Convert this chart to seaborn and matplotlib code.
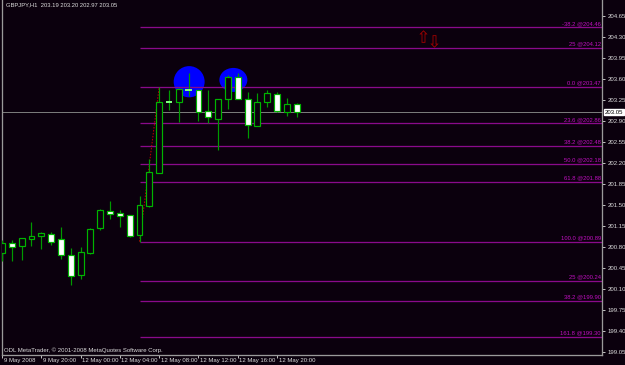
import numpy as np
import pandas as pd
import matplotlib
matplotlib.use("Agg")
import matplotlib.pyplot as plt
import matplotlib.transforms as mtransforms
from matplotlib.patches import Ellipse
import seaborn as sns

# ---------------- data ----------------
opens  = [200.70, 200.86, 200.81, 200.93, 200.99, 201.02, 200.93, 200.67, 200.33, 200.70,
          201.11, 201.40, 201.36, 201.33, 201.00, 201.49, 202.04, 203.21, 203.21, 203.42,
          203.41, 203.06, 202.93, 203.26, 203.64, 203.26, 202.81, 203.21, 203.35, 203.05, 203.19]
highs  = [200.92, 200.92, 200.95, 201.21, 201.05, 201.05, 201.13, 200.78, 200.80, 201.12,
          201.44, 201.56, 201.41, 201.33, 201.65, 202.26, 203.47, 203.42, 203.45, 203.70,
          203.42, 203.42, 203.26, 203.67, 203.70, 203.39, 203.37, 203.42, 203.38, 203.28, 203.20]
lows   = [200.57, 200.57, 200.58, 200.81, 200.76, 200.83, 200.60, 200.16, 200.26, 200.69,
          201.08, 201.26, 201.14, 200.96, 200.89, 201.47, 202.03, 203.08, 202.88, 203.31,
          202.90, 202.86, 202.41, 203.10, 203.27, 202.61, 202.81, 203.14, 203.05, 202.98, 202.97]
closes = [200.87, 200.80, 200.95, 200.98, 201.03, 200.89, 200.66, 200.32, 200.71, 201.10,
          201.41, 201.35, 201.31, 200.99, 201.50, 202.05, 203.21, 203.21, 203.43, 203.42,
          203.05, 202.96, 203.26, 203.63, 203.27, 202.83, 203.22, 203.36, 203.06, 203.19, 203.05]

tick_bars = [0, 4, 8, 12, 16, 20, 24, 28]
tick_labels = ["9 May 2008", "9 May 20:00", "12 May 00:00", "12 May 04:00",
               "12 May 08:00", "12 May 12:00", "12 May 16:00", "12 May 20:00"]

fib_names  = ["-38.2", "25", "0.0", "23.6", "38.2", "50.0", "61.8", "100.0", "25", "38.2", "161.8"]
fib_prices = [204.46, 204.12, 203.47, 202.86, 202.48, 202.18, 201.88, 200.89, 200.24, 199.90, 199.30]
fib_anchor_bars = [14, 16]          # bar of 100% (low) and 0% (high)

price_ticks = [199.05, 199.40, 199.75, 200.10, 200.45, 200.80, 201.15, 201.50,
               201.85, 202.20, 202.55, 202.90, 203.25, 203.60, 203.95, 204.30, 204.65]

bid_price = 203.05
header = "GBPJPY,H1  203.19 203.20 202.97 203.05"
footer = "ODL MetaTrader, \u00a9 2001-2008 MetaQuotes Software Corp."

ellipse_x = [19.05, 23.55]
ellipse_y = [203.555, 203.585]
ellipse_w = [3.15, 2.85]
ellipse_h = [0.52, 0.40]

arrow_x = [42.85, 43.95]
arrow_y = [204.32, 204.23]
arrow_sym = ["\u21e7", "\u21e9"]

# ---------------- style ----------------
BG = "#0b000d"
GREEN = "#00b400"
WICK = "#009a00"
FIB = "#8a0a8a"
FIBTXT = "#c010c0"
TXT = "#dcdcdc"
PX = 0.72  # one pixel in points at dpi 100

sns.set_theme(style="dark", rc={"axes.facecolor": BG, "figure.facecolor": BG})
plt.rcParams["font.family"] = ["Liberation Sans", "DejaVu Sans"]

df = pd.DataFrame({"bar": np.arange(len(opens)), "open": opens, "high": highs,
                   "low": lows, "close": closes})

fig = plt.figure(figsize=(6.25, 3.65), dpi=100)
ax = fig.add_axes([2 / 625, 10 / 365, 600 / 625, 355 / 365])
ax.set_facecolor(BG)

x_left, x_right = 0.03, 61.07
ax.set_xlim(x_left, x_right)
ax.set_ylim(199.0, 204.917)

# ellipses
for ex, ey, ew, eh in zip(ellipse_x, ellipse_y, ellipse_w, ellipse_h):
    ax.add_patch(Ellipse((ex, ey), ew, eh, facecolor="#0000ff", edgecolor="none", zorder=1))

# fibonacci levels
ax.hlines(fib_prices, fib_anchor_bars[0], x_right, colors=FIB, lw=1.3 * PX, zorder=2)
blend = mtransforms.blended_transform_factory(ax.transAxes, ax.transData)
for name, p in zip(fib_names, fib_prices):
    ax.text(0.998, p, f"{name} @{p:.2f}", transform=blend + mtransforms.ScaledTranslation(0, 1.5 / 100, fig.dpi_scale_trans),
            ha="right", va="bottom", fontsize=4.2, color=FIBTXT, zorder=5)

# fibo anchor trend line
a0, a1 = fib_anchor_bars
ax.plot([a0, a1], [df["low"][a0], df["high"][a1]], color="#c00000", lw=PX,
        dashes=(1.5, 1.5), zorder=2.5)

# bid line
ax.axhline(bid_price, color="#7a7a7a", lw=PX, zorder=2.2)

# candles
ax.vlines(df["bar"], df["low"], df["high"], colors=WICK, lw=1.2 * PX, zorder=3)
body_lo = df[["open", "close"]].min(axis=1)
body_h = (df["close"] - df["open"]).abs()
bull = df["close"] > df["open"]
doji = body_h < 0.015
fc = np.where(bull, BG, "#ffffff")
normal = ~doji
ax.bar(df["bar"][normal], body_h[normal], bottom=body_lo[normal], width=0.6,
       color=fc[normal.values], edgecolor=GREEN, linewidth=1.2 * PX, zorder=4)
ax.hlines(df["close"][doji], df["bar"][doji] - 0.33, df["bar"][doji] + 0.33,
          colors="#7dff7d", lw=2 * PX, zorder=4)

# arrows (drawn as glyph markers)
for axx, ayy, s in zip(arrow_x, arrow_y, arrow_sym):
    ax.plot([axx], [ayy], linestyle="none", marker=f"${s}$", markersize=9,
            color="#a80000", markeredgewidth=0, zorder=5)

# axes cosmetics
ax.grid(False)
for side in ["left", "right", "bottom"]:
    ax.spines[side].set_visible(True)
    ax.spines[side].set_color("#9a9a9a")
    ax.spines[side].set_linewidth(1.3 * PX)
ax.spines["top"].set_visible(False)

ax.yaxis.tick_right()
ax.set_yticks(price_ticks)
ax.set_yticklabels([f"{v:.2f}" for v in price_ticks])
ax.tick_params(axis="y", which="both", right=True, left=False, length=2.5, width=PX,
               color="#bdbdbd", labelsize=4.3, labelcolor=TXT, pad=1.5)

ax.set_xticks(tick_bars)
ax.set_xticklabels(tick_labels, ha="left")
ax.tick_params(axis="x", bottom=True, length=2.2, width=PX, color="#bdbdbd",
               labelsize=4.3, labelcolor=TXT, pad=0.3)
for lbl in ax.get_xticklabels():
    lbl.set_transform(lbl.get_transform() + mtransforms.ScaledTranslation(1.5 / 100, 0, fig.dpi_scale_trans))

# price label box
ax.text(1.004, bid_price, f"{bid_price:.2f}", transform=blend, ha="left", va="center",
        fontsize=4.3, color="#000000", clip_on=False, zorder=6,
        bbox=dict(boxstyle="square,pad=0.15", facecolor="#ffffff", edgecolor="#ffffff"))

ax.text(0.006, 0.993, header, transform=ax.transAxes, ha="left", va="top",
        fontsize=4.2, color=TXT, zorder=6)
ax.text(0.004, 0.006, footer, transform=ax.transAxes, ha="left", va="bottom",
        fontsize=4.3, color=TXT, zorder=6)

fig.savefig("out.png", dpi=100, facecolor=BG)
